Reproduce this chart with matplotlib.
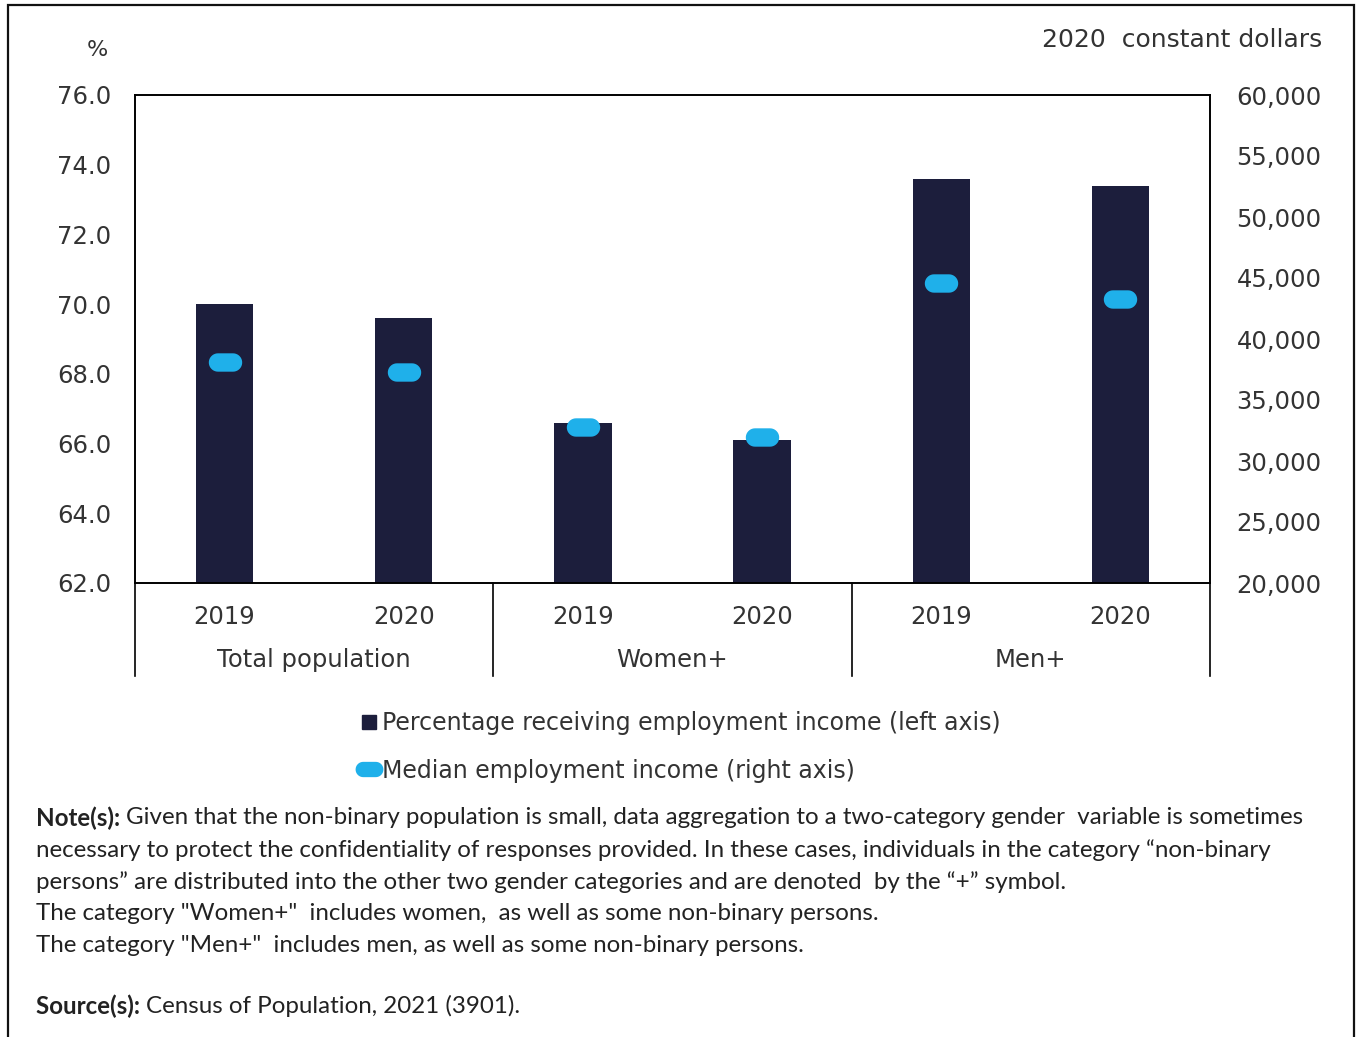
import numpy as np
import matplotlib
matplotlib.use("Agg")
import matplotlib.pyplot as plt
from matplotlib.path import Path
from matplotlib.lines import Line2D
from matplotlib.patches import Rectangle

# ---- data ----
groups = ["Total population", "Women+", "Men+"]
years = ["2019", "2020"]
pct_receiving = [70.0, 69.6, 66.6, 66.1, 73.6, 73.4]          # left axis, %
median_income = [38100, 37300, 32800, 32000, 44600, 43300]     # right axis, 2020 constant dollars
left_ticks = [62.0, 64.0, 66.0, 68.0, 70.0, 72.0, 74.0, 76.0]
right_ticks = [20000, 25000, 30000, 35000, 40000, 45000, 50000, 55000, 60000]

BAR = "#1c1e3c"
DOT = "#1fb0ea"
TXT = "#333333"

# rounded "pill" marker for the income series
t1 = np.linspace(-np.pi / 2, np.pi / 2, 20)
t2 = np.linspace(np.pi / 2, 3 * np.pi / 2, 20)
r = 0.55
xs = np.concatenate([0.45 + r * np.cos(t1), -0.45 + r * np.cos(t2)])
ys = np.concatenate([r * np.sin(t1), r * np.sin(t2)])
pill = Path(np.column_stack([np.append(xs, xs[0]), np.append(ys, ys[0])]), closed=True)

fig = plt.figure(figsize=(13.57, 10.37), dpi=100)
ax = fig.add_axes([135 / 1357, 1 - 583 / 1037, (1210 - 135) / 1357, (583 - 95) / 1037])
ax2 = ax.twinx()

n = len(pct_receiving)
x = np.arange(n)
ax.bar(x, pct_receiving, width=0.32, color=BAR, zorder=2)
ax.set_ylim(left_ticks[0], left_ticks[-1])
ax.set_xlim(-0.5, n - 0.5)
ax.set_yticks(left_ticks)
ax.set_yticklabels([f"{v:.1f}" for v in left_ticks])

ax2.plot(x, median_income, linestyle="none", marker=pill, markersize=24,
         color=DOT, markeredgewidth=0, zorder=3)
ax2.set_ylim(right_ticks[0], right_ticks[-1])
ax2.set_yticks(right_ticks)
ax2.set_yticklabels([f"{v:,}" for v in right_ticks])

for a in (ax, ax2):
    a.tick_params(axis="y", length=0, labelsize=17.5, labelcolor=TXT, pad=19)
    for s in a.spines.values():
        s.set_color("#000000")
        s.set_linewidth(1.2)
ax.tick_params(axis="y", pad=17)

ax.set_xticks(x)
ax.set_xticklabels([years[i % 2] for i in range(n)])
ax.tick_params(axis="x", length=0, labelsize=17.5, labelcolor=TXT, pad=16)

# group labels and separators below the category axis
for g, name in enumerate(groups):
    ax.text(2 * g + 0.5, -0.158, name, transform=ax.get_xaxis_transform(),
            ha="center", va="center", fontsize=17.5, color=TXT)
for b in [-0.5, 1.5, 3.5, 5.5]:
    ax.plot([b, b], [0, -0.19], transform=ax.get_xaxis_transform(),
            color="#000000", lw=1.2, clip_on=False)

# axis unit labels
fig.text(97 / 1357, 1 - 50 / 1037, "%", ha="center", va="center", fontsize=16, color=TXT)
fig.text(1322 / 1357, 1 - 40 / 1037, "2020  constant dollars", ha="right", va="center",
         fontsize=18, color=TXT)

# legend
handles = [
    Line2D([], [], linestyle="none", marker="s", markersize=9.5, color=BAR),
    Line2D([], [], linestyle="none", marker=pill, markersize=20, color=DOT, markeredgewidth=0),
]
labels = ["Percentage receiving employment income (left axis)",
          "Median employment income (right axis)"]
fig.legend(handles, labels, loc="upper left", bbox_to_anchor=(358 / 1357, 1 - 711 / 1037),
           frameon=False, fontsize=17, handlelength=0.9, handletextpad=0.1,
           labelspacing=1.0, labelcolor=TXT, borderpad=0, borderaxespad=0)

# notes and source
note_font = "Lato"
nfs = 17.4
nx = 36 / 1357
lines = [
    (818, "Given that the non-binary population is small, data aggregation to a two-category gender  variable is sometimes", "Note(s): "),
    (850, "necessary to protect the confidentiality of responses provided. In these cases, individuals in the category \u201cnon-binary", None),
    (882, "persons\u201d are distributed into the other two gender categories and are denoted  by the \u201c+\u201d symbol.", None),
    (914, "The category \"Women+\"  includes women,  as well as some non-binary persons.", None),
    (946, "The category \"Men+\"  includes men, as well as some non-binary persons.", None),
    (1006, "Census of Population, 2021 (3901).", "Source(s): "),
]
renderer = fig.canvas.get_renderer()
for yy, body, head in lines:
    xpos = nx
    if head:
        h = fig.text(xpos, 1 - yy / 1037, head, ha="left", va="center", fontsize=nfs,
                     family=note_font, weight="bold", color="#222222")
        bb = h.get_window_extent(renderer=renderer)
        xpos = bb.x1 / fig.bbox.width
    fig.text(xpos, 1 - yy / 1037, body, ha="left", va="center", fontsize=nfs,
             family=note_font, color="#222222")

# outer frame
fig.add_artist(Rectangle((8 / 1357, -0.01), (1354 - 8) / 1357, 1 - 5 / 1037 + 0.01,
                         transform=fig.transFigure, fill=False, edgecolor="#111111", lw=1.6))

fig.savefig("out.png", dpi=100)
